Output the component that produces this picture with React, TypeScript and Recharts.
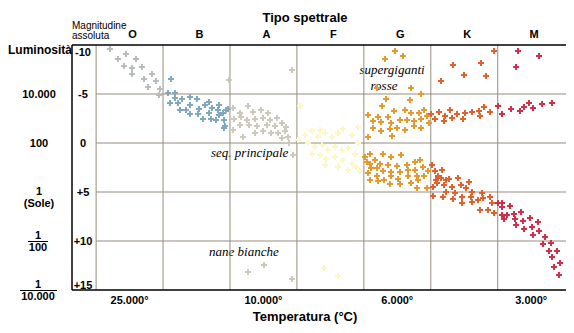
import React from "react";
import { ReferenceLine, Scatter, ScatterChart, XAxis, YAxis } from "recharts";

// x = posizione sulla scala spettrale (0 = inizio O, 1 per classe), y = magnitudine assoluta
type Pt = [number, number];

const spectralTicks = [0.5, 1.5, 2.5, 3.5, 4.5, 5.5, 6.5];
const spectralLabels = ["O", "B", "A", "F", "G", "K", "M"];
const tempTicks = [0.5, 2.5, 4.5, 6.5];
const tempLabels = ["25.000°", "10.000°", "6.000°", "3.000°"];
const magTicks = [-10, -5, 0, 5, 10, 15];
const magLabels = ["-10", "-5", "0", "+5", "+10", "+15"];
const classLines = [0, 1, 2, 3, 4, 5, 6];
const magLines = [-5, 0, 5, 10];

const starsO: Pt[] = [
  [0.21, -9.6], [0.32, -8.6], [0.44, -9.1], [0.41, -7.9], [0.6, -8.6], [0.54, -7.7], [0.68, -7.8],
  [0.54, -7.0], [0.72, -6.5], [0.83, -7.0], [0.78, -5.7], [0.9, -6.3], [0.96, -5.5], [0.94, -4.9],
];
const starsB: Pt[] = [
  [1.12, -6.5], [1.07, -5.1], [1.18, -5.1], [1.11, -4.1], [1.18, -4.6], [1.22, -4.1], [1.29, -4.5],
  [1.41, -4.7], [1.51, -4.5], [1.26, -3.4], [1.35, -3.4], [1.4, -3.9], [1.41, -3.0], [1.52, -3.0],
  [1.54, -3.5], [1.63, -3.9], [1.69, -4.2], [1.73, -3.6], [1.69, -3.1], [1.6, -2.4], [1.72, -2.5],
  [1.79, -2.3], [1.84, -3.9], [1.82, -3.4], [1.89, -3.1], [1.84, -2.9], [1.91, -2.3], [1.94, -3.4],
  [1.93, -1.7], [1.97, -3.5], [1.91, -1.5],
];
const starsA: Pt[] = [
  [2.05, -3.6], [2.15, -3.1], [2.27, -3.8], [2.35, -3.2], [2.46, -3.4], [2.57, -3.1], [2.06, -2.5],
  [2.17, -2.7], [2.25, -2.3], [2.37, -2.5], [2.5, -2.6], [2.6, -2.3], [2.7, -2.6], [2.15, -1.8],
  [2.29, -1.8], [2.41, -1.7], [2.55, -1.8], [2.67, -1.7], [2.77, -2.0], [2.84, -1.6], [2.37, -1.0],
  [2.5, -1.2], [2.62, -1.0], [2.72, -1.0], [2.82, -1.2], [2.86, -0.6], [2.77, -0.5], [2.88, 0.0],
  [2.2, -0.6], [2.04, -1.3], [1.99, -6.4], [2.92, -7.4], [2.94, 1.2],
  [2.27, 13.2], [2.51, 12.4], [2.93, 13.9],
];
const starsF: Pt[] = [
  [3.04, -3.8], [3.12, -0.8], [3.23, -1.2], [3.32, -0.6], [3.42, -1.0], [3.52, -0.6], [3.62, -1.0],
  [3.69, -1.4], [3.91, -1.6], [3.82, -0.8], [3.91, 0.0], [3.17, 0.0], [3.27, 0.4], [3.37, 0.2],
  [3.47, 0.7], [3.57, 0.4], [3.67, 0.7], [3.77, 0.5], [3.87, 1.1], [3.22, 1.1], [3.34, 1.2],
  [3.44, 1.6], [3.57, 1.4], [3.69, 1.7], [3.82, 2.1], [3.42, 2.2], [3.62, 2.4], [3.77, 2.8],
  [3.89, 2.4], [3.94, 2.9], [3.34, -1.3], [3.01, -0.3],
  [3.4, 12.8], [3.62, 13.6],
];
const starsG: Pt[] = [
  [4.46, -9.4], [4.32, -8.6], [4.59, -8.9], [4.2, -5.6], [4.7, -5.6], [4.85, -5.0], [4.33, -4.5],
  [4.69, -4.4], [4.27, -3.8], [4.45, -3.3],
  [4.06, -2.9], [4.21, -2.7], [4.36, -2.7], [4.61, -3.4], [4.71, -3.1], [4.82, -3.1], [4.9, -3.4],
  [4.14, -2.2], [4.26, -2.1], [4.41, -2.0], [4.54, -2.3], [4.65, -2.3], [4.75, -2.2], [4.86, -2.5],
  [4.95, -2.8], [4.14, -1.5], [4.26, -1.2], [4.39, -1.4], [4.5, -1.5], [4.61, -1.3], [4.75, -1.7],
  [4.85, -1.5], [4.97, -2.0], [4.06, -0.6], [4.42, -0.7],
  [4.09, 1.1], [4.01, 1.4], [4.04, 1.9], [4.09, 2.1], [4.29, 1.1], [4.41, 1.4], [4.56, 1.2],
  [4.16, 1.7], [4.24, 2.1], [4.36, 2.2], [4.49, 2.3], [4.64, 2.2], [4.76, 1.9], [4.84, 1.7],
  [4.11, 2.6], [4.2, 2.6], [4.29, 2.9], [4.41, 3.0], [4.54, 3.0], [4.66, 2.8], [4.76, 2.8],
  [4.89, 2.4], [4.06, 3.1], [4.19, 3.4], [4.3, 3.8], [4.4, 3.4], [4.51, 3.7], [4.66, 3.4],
  [4.79, 3.4], [4.9, 3.4], [4.09, 3.8], [4.21, 3.9], [4.39, 4.2], [4.54, 4.2], [4.7, 4.1],
  [4.81, 3.8], [4.94, 4.6], [4.79, 4.6], [4.96, 2.9],
];
const starsK: Pt[] = [
  [5.15, -6.3], [5.33, -8.0], [5.5, -6.9], [5.75, -8.2], [5.82, -6.8], [5.94, -9.4],
  [5.01, -3.0], [5.07, -2.4], [5.13, -3.2], [5.2, -2.2], [5.21, -2.8], [5.28, -3.4], [5.31, -2.6],
  [5.39, -3.0], [5.48, -2.5], [5.51, -3.1], [5.61, -3.2], [5.73, -2.8], [5.72, -3.3], [5.79, -3.7],
  [5.89, -3.2],
  [5.02, 2.2], [5.07, 2.9], [5.17, 2.8], [5.11, 3.4], [5.08, 3.8], [5.15, 3.6], [5.22, 3.8],
  [5.27, 3.7], [5.03, 4.5], [5.1, 4.1], [5.2, 4.3], [5.31, 4.5], [5.4, 3.6], [5.45, 4.3],
  [5.57, 4.0], [5.52, 4.6], [5.22, 5.0], [5.36, 5.1], [5.61, 5.0], [5.03, 5.4], [5.18, 5.5],
  [5.33, 5.7], [5.46, 5.5], [5.6, 5.5], [5.77, 5.1], [5.47, 6.1], [5.61, 6.0], [5.7, 5.8],
  [5.78, 5.6], [5.88, 5.5], [5.73, 6.8], [5.85, 6.8], [5.91, 6.1], [5.94, 7.1],
];
const starsM: Pt[] = [
  [6.3, -9.4], [6.62, -8.9], [6.27, -7.8],
  [6.0, -3.8], [6.06, -3.0], [6.2, -3.5], [6.33, -3.3], [6.39, -3.7], [6.47, -4.1], [6.53, -3.6],
  [6.66, -4.0], [6.81, -4.1],
  [6.0, 6.1], [6.06, 6.1], [6.06, 6.5], [6.06, 7.3], [6.14, 7.3], [6.19, 6.4], [6.1, 7.8],
  [6.24, 7.2], [6.26, 7.8], [6.35, 7.0], [6.28, 8.4], [6.38, 8.0], [6.39, 8.8], [6.48, 7.7],
  [6.51, 8.6], [6.6, 8.1], [6.53, 9.4], [6.62, 9.0], [6.71, 9.6], [6.68, 10.3], [6.79, 10.2],
  [6.77, 11.0], [6.89, 11.0], [6.81, 11.6], [6.93, 12.2], [6.84, 12.7], [6.91, 13.5],
];

const series = [
  { name: "O", data: starsO, color: "#b8bcbc" },
  { name: "B", data: starsB, color: "#80a9bf" },
  { name: "A", data: starsA, color: "#cdc9bd" },
  { name: "F", data: starsF, color: "#fcf7c4" },
  { name: "G", data: starsG, color: "#e39a2e" },
  { name: "K", data: starsK, color: "#e2622e" },
  { name: "M", data: starsM, color: "#d2304a" },
];

const X_MIN = -0.36;
const X_MAX = 7.02;
const sans = "'Liberation Sans', Arial, sans-serif";
const serif = "'Liberation Serif', 'Times New Roman', serif";
const gridColor = "#958d7e";

const StarMark = (props: any) => {
  const { cx, cy, fill } = props;
  if (cx == null || cy == null) return null;
  const x = Math.round(cx);
  const y = Math.round(cy);
  const d = `M${x - 1},${y - 3}h2v2h2v2h-2v2h-2v-2h-2v-2h2z`;
  return <path d={d} fill={fill} />;
};

const lumLabel = (v: number, y: number) => {
  const common = { fontFamily: sans, fontWeight: 700, fontSize: 11, fill: "#000", textAnchor: "middle" as const };
  if (v === -10)
    return <text x={40} y={y + 9} {...common} fontSize={12}>Luminosità</text>;
  if (v === -5) return <text x={39} y={y + 4} {...common}>10.000</text>;
  if (v === 0) return <text x={39} y={y + 4} {...common}>100</text>;
  if (v === 5)
    return (
      <g>
        <text x={39} y={y + 3} {...common}>1</text>
        <text x={39} y={y + 15} {...common}>(Sole)</text>
      </g>
    );
  if (v === 10)
    return (
      <g>
        <text x={38} y={y - 2} {...common}>1</text>
        <line x1={28} x2={48} y1={y + 0.5} y2={y + 0.5} stroke="#000" />
        <text x={38} y={y + 10} {...common}>100</text>
      </g>
    );
  return (
    <g>
      <text x={38} y={y - 2} {...common}>1</text>
      <line x1={20} x2={57} y1={y + 0.5} y2={y + 0.5} stroke="#000" />
      <text x={38} y={y + 10} {...common}>10.000</text>
    </g>
  );
};

const YTick = (props: any) => {
  const { y, payload } = props;
  const v = payload.value as number;
  const i = magTicks.indexOf(v);
  const yy = v === -10 ? y + 7 : v === 15 ? y - 5 : y;
  return (
    <g>
      <text x={83} y={yy + 4} textAnchor="middle" fontFamily={sans} fontWeight={700} fontSize={11} fill="#000">
        {magLabels[i]}
      </text>
      {lumLabel(v, y)}
    </g>
  );
};

const TopTick = (props: any) => {
  const { x, payload } = props;
  const i = spectralTicks.indexOf(payload.value);
  return (
    <text x={x + 3} y={38} textAnchor="middle" fontFamily={sans} fontWeight={700} fontSize={11} fill="#000">
      {spectralLabels[i]}
    </text>
  );
};

const BottomTick = (props: any) => {
  const { x, payload } = props;
  const i = tempTicks.indexOf(payload.value);
  return (
    <text x={x} y={304} textAnchor="middle" fontFamily={sans} fontWeight={700} fontSize={11} fill="#000">
      {tempLabels[i]}
    </text>
  );
};

export default function App() {
  return (
    <div style={{ position: "absolute", left: 0, top: 0, background: "#fff" }}>
      <ScatterChart width={574} height={333} margin={{ top: 25, right: 8, bottom: 0, left: 0 }}>
        <XAxis
          type="number"
          dataKey="s"
          domain={[X_MIN, X_MAX]}
          ticks={tempTicks}
          tick={<BottomTick />}
          tickLine={false}
          axisLine={{ stroke: "#000", strokeWidth: 1.5 }}
          height={43}
          allowDataOverflow
        />
        <XAxis
          xAxisId="top"
          orientation="top"
          type="number"
          dataKey="s"
          domain={[X_MIN, X_MAX]}
          ticks={spectralTicks}
          tick={<TopTick />}
          tickLine={false}
          axisLine={{ stroke: "#000", strokeWidth: 1.5 }}
          height={20}
          allowDataOverflow
        />
        <YAxis
          type="number"
          dataKey="m"
          domain={[-10, 15]}
          reversed
          ticks={magTicks}
          tick={<YTick />}
          tickLine={false}
          axisLine={{ stroke: "#000", strokeWidth: 1.5 }}
          width={72}
          allowDataOverflow
        />
        <YAxis
          yAxisId="r"
          orientation="right"
          type="number"
          domain={[-10, 15]}
          reversed
          tick={false}
          tickLine={false}
          axisLine={{ stroke: "#000", strokeWidth: 1.5 }}
          width={0}
        />

        {classLines.map((c) => (
          <ReferenceLine key={`v${c}`} x={c} stroke={gridColor} strokeWidth={1} />
        ))}
        {magLines.map((m) => (
          <ReferenceLine
            key={`h${m}`}
            segment={[{ x: 0, y: m }, { x: X_MAX, y: m }]}
            stroke={gridColor}
            strokeWidth={1}
          />
        ))}

        {series.map((s) => (
          <Scatter
            key={s.name}
            name={s.name}
            data={s.data.map(([x, y]) => ({ s: x, m: y }))}
            fill={s.color}
            shape={<StarMark />}
            isAnimationActive={false}
          />
        ))}

        <text x={305} y={22} textAnchor="middle" fontFamily={sans} fontWeight={700} fontSize={13} fill="#000">
          Tipo spettrale
        </text>
        <text x={72} y={29} fontFamily={sans} fontSize={10} fill="#000">Magnitudine</text>
        <text x={72} y={39} fontFamily={sans} fontSize={10} fill="#000">assoluta</text>
        <text x={305} y={321} textAnchor="middle" fontFamily={sans} fontWeight={700} fontSize={13} fill="#000">
          Temperatura (°C)
        </text>
        <text x={392} y={74} textAnchor="middle" fontFamily={serif} fontStyle="italic" fontSize={13} fill="#000">
          supergiganti
        </text>
        <text x={384} y={90} textAnchor="middle" fontFamily={serif} fontStyle="italic" fontSize={13} fill="#000">
          rosse
        </text>
        <text x={211} y={157} fontFamily={serif} fontStyle="italic" fontSize={13} fill="#000">
          seq. principale
        </text>
        <text x={209} y={256} fontFamily={serif} fontStyle="italic" fontSize={13} fill="#000">
          nane bianche
        </text>
      </ScatterChart>
    </div>
  );
}
